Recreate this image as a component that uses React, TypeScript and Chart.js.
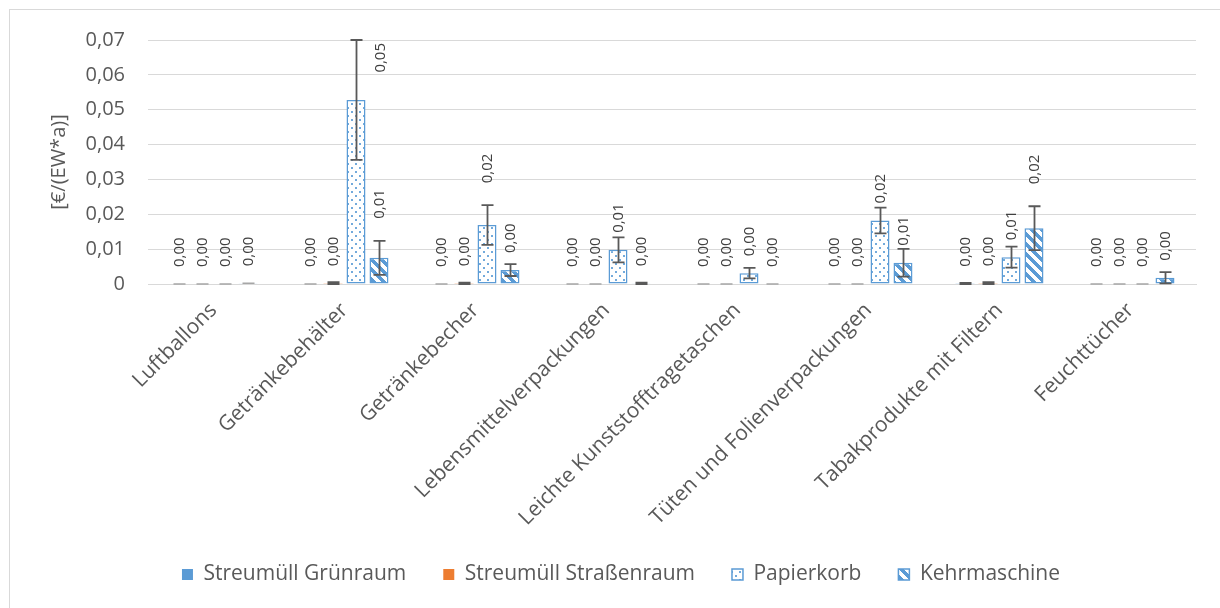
import React, { useEffect, useRef } from "react";
import { Chart, registerables } from "chart.js";

Chart.register(...registerables);

const categories = [
  "Luftballons",
  "Getränkebehälter",
  "Getränkebecher",
  "Lebensmittelverpackungen",
  "Leichte Kunststofftragetaschen",
  "Tüten und Folienverpackungen",
  "Tabakprodukte mit Filtern",
  "Feuchttücher",
];

const seriesNames = ["Streumüll Grünraum", "Streumüll Straßenraum", "Papierkorb", "Kehrmaschine"];

const gruenraum = [0, 0, 0, 0, 0, 0, 0.0001, 0];
const gruenraumErr = [0, 0, 0, 0, 0, 0, 0.0002, 0];
const strassenraum = [0, 0.0002, 0.0002, 0, 0, 0, 0.0002, 0];
const strassenraumErr = [0, 0.0003, 0.0002, 0, 0, 0, 0.0003, 0];
const papierkorb = [0, 0.0528, 0.0169, 0.0098, 0.0031, 0.0182, 0.0077, 0];
const papierkorbErr = [0, 0.0172, 0.0057, 0.0036, 0.0015, 0.0037, 0.003, 0];
const kehrmaschine = [0.0002, 0.0075, 0.004, 0.0002, 0, 0.0061, 0.016, 0.0018];
const kehrmaschineErr = [0, 0.0049, 0.0017, 0.0002, 0, 0.004, 0.0063, 0.0016];

const yTickValues = [0, 0.01, 0.02, 0.03, 0.04, 0.05, 0.06, 0.07];

const seriesValues = [gruenraum, strassenraum, papierkorb, kehrmaschine];
const seriesErrors = [gruenraumErr, strassenraumErr, papierkorbErr, kehrmaschineErr];

const BLUE = "#5B9BD5";
const ORANGE = "#ED7D31";
const FONT = "'Open Sans', sans-serif";

function makeDots(): CanvasPattern | string {
  const c = document.createElement("canvas");
  c.width = 8;
  c.height = 8;
  const g = c.getContext("2d");
  if (!g) return "#fff";
  g.fillStyle = "#ffffff";
  g.fillRect(0, 0, 8, 8);
  g.fillStyle = "rgba(91,155,213,0.85)";
  g.fillRect(1, 1, 2, 2);
  g.fillRect(5, 5, 2, 2);
  return g.createPattern(c, "repeat") || "#fff";
}

function makeStripes(): CanvasPattern | string {
  const n = 10;
  const c = document.createElement("canvas");
  c.width = n;
  c.height = n;
  const g = c.getContext("2d");
  if (!g) return BLUE;
  g.fillStyle = "#ffffff";
  g.fillRect(0, 0, n, n);
  g.fillStyle = BLUE;
  for (let y = 0; y < n; y++) {
    for (let x = 0; x < n; x++) {
      if ((((x - y) % n) + n) % n < 5) g.fillRect(x, y, 1, 1);
    }
  }
  return g.createPattern(c, "repeat") || BLUE;
}

const fmt = (v: number) => v.toFixed(2).replace(".", ",");

const overlayPlugin = {
  id: "errorsAndLabels",
  afterDatasetsDraw(chart: any) {
    const ctx = chart.ctx;
    const ys = chart.scales.y;
    const area = chart.chartArea;
    ctx.save();
    // error bars
    seriesValues.forEach((vals, i) => {
      const meta = chart.getDatasetMeta(i);
      meta.data.forEach((bar: any, j: number) => {
        const v = vals[j];
        const e = seriesErrors[i][j];
        const yT = ys.getPixelForValue(v + e);
        const yB = ys.getPixelForValue(Math.max(0, v - e));
        const x = Math.round(bar.x) + 0.5;
        ctx.strokeStyle = e > 0 ? "#595959" : "#a6a6a6";
        ctx.lineWidth = e > 0 ? 1.8 : 1.5;
        ctx.beginPath();
        ctx.moveTo(x, yT);
        ctx.lineTo(x, yB);
        ctx.moveTo(x - 6, yT);
        ctx.lineTo(x + 6, yT);
        ctx.moveTo(x - 6, yB);
        ctx.lineTo(x + 6, yB);
        ctx.stroke();
      });
    });
    // data labels
    ctx.font = "15px " + FONT;
    ctx.fillStyle = "#404040";
    ctx.textBaseline = "middle";
    ctx.textAlign = "left";
    seriesValues.forEach((vals, i) => {
      const meta = chart.getDatasetMeta(i);
      meta.data.forEach((bar: any, j: number) => {
        const v = vals[j];
        const e = seriesErrors[i][j];
        const text = fmt(v);
        const w = ctx.measureText(text).width;
        const topPx = ys.getPixelForValue(v);
        const errTop = ys.getPixelForValue(v + e);
        let x = bar.x;
        let base = topPx - 17;
        if (topPx - errTop > 15) {
          base = errTop - 22;
          if (base - w < area.top) {
            x = bar.x + 24;
            base = errTop + w + 3;
          }
        }
        ctx.save();
        ctx.translate(x + 1, base);
        ctx.rotate(-Math.PI / 2);
        ctx.fillText(text, 0, 0);
        ctx.restore();
      });
    });
    ctx.restore();
  },
};

export default function App() {
  const ref = useRef<HTMLCanvasElement | null>(null);

  useEffect(() => {
    if (!ref.current) return;
    const dots = makeDots();
    const stripes = makeStripes();
    const chart = new Chart(ref.current, {
      type: "bar",
      data: {
        labels: categories,
        datasets: [
          {
            label: seriesNames[0],
            data: gruenraum,
            backgroundColor: BLUE,
            borderColor: BLUE,
            borderWidth: 0,
          },
          {
            label: seriesNames[1],
            data: strassenraum,
            backgroundColor: ORANGE,
            borderColor: ORANGE,
            borderWidth: 0,
          },
          {
            label: seriesNames[2],
            data: papierkorb,
            backgroundColor: dots as any,
            borderColor: BLUE,
            borderWidth: 1.5,
            borderSkipped: false,
          },
          {
            label: seriesNames[3],
            data: kehrmaschine,
            backgroundColor: stripes as any,
            borderColor: BLUE,
            borderWidth: 1.5,
            borderSkipped: false,
          },
        ],
      },
      options: {
        animation: false,
        responsive: true,
        maintainAspectRatio: false,
        datasets: {
          bar: { categoryPercentage: 0.702, barPercentage: 0.826 },
        },
        layout: { padding: { left: 36, right: 24, top: 30, bottom: 13 } },
        plugins: {
          legend: {
            position: "bottom",
            labels: {
              font: { family: FONT, size: 21 },
              color: "#595959",
              boxWidth: 11,
              boxHeight: 11,
              padding: 37,
            },
          },
          tooltip: { enabled: false },
        },
        scales: {
          x: {
            grid: { display: false, drawTicks: false },
            border: { display: true, color: "#d9d9d9", width: 1 },
            ticks: {
              autoSkip: false,
              maxRotation: 45,
              minRotation: 45,
              padding: 14,
              color: "#595959",
              font: { family: FONT, size: 21 },
            },
            afterFit: (s: any) => {
              s.height = 243;
              s._computeLabelArea = () => undefined;
            },
          },
          y: {
            min: 0,
            max: 0.07,
            afterBuildTicks: (s: any) => {
              s.ticks = yTickValues.map((v) => ({ value: v }));
            },
            grid: {
              color: "#d9d9d9",
              drawTicks: true,
              tickLength: 15,
              tickColor: "rgba(0,0,0,0)",
              lineWidth: 1,
            },
            border: { display: false },
            ticks: {
              padding: 8,
              color: "#595959",
              font: { family: FONT, size: 20 },
              callback: (v: any) => (Number(v) === 0 ? "0" : fmt(Number(v))),
            },
            title: {
              display: true,
              text: "[€/(EW*a)]",
              color: "#595959",
              font: { family: FONT, size: 20 },
              padding: { top: 1, bottom: 0 },
            },
            afterFit: (s: any) => {
              s.width = 102;
            },
          },
        },
      },
      plugins: [overlayPlugin],
    });
    return () => chart.destroy();
  }, []);

  return (
    <div
      style={{
        position: "absolute",
        left: 9,
        top: 9,
        width: 1211,
        height: 599,
        borderLeft: "1px solid #d9d9d9",
        borderTop: "1px solid #d9d9d9",
        boxSizing: "border-box",
        background: "#fff",
      }}
    >
      <div style={{ position: "relative", width: 1210, height: 598 }}>
        <canvas ref={ref} />
      </div>
    </div>
  );
}
